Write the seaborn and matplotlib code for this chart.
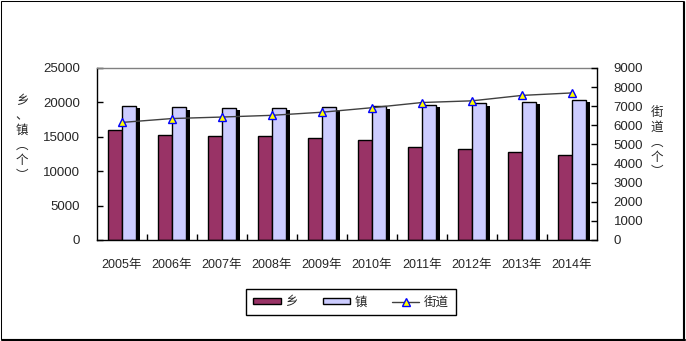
import numpy as np
import pandas as pd
import matplotlib
matplotlib.use("Agg")
import matplotlib.pyplot as plt
import matplotlib.patheffects as pe
from matplotlib.patches import Rectangle
from matplotlib.lines import Line2D
from matplotlib.patches import Patch
import seaborn as sns

years = ["2005年", "2006年", "2007年", "2008年", "2009年",
         "2010年", "2011年", "2012年", "2013年", "2014年"]
xiang = [15951, 15306, 15120, 15067, 14848, 14571, 13587, 13281, 12812, 12282]
zhen = [19522, 19369, 19249, 19234, 19322, 19410, 19683, 19881, 20117, 20401]
jiedao = [6152, 6355, 6434, 6524, 6686, 6923, 7194, 7282, 7566, 7696]

left_ticks = [0, 5000, 10000, 15000, 20000, 25000]
right_ticks = list(range(0, 10000, 1000))

sns.set_theme(style="white")
plt.rcParams["font.family"] = ["Liberation Sans", "Noto Sans CJK SC", "DejaVu Sans"]

df = pd.DataFrame({
    "year": years * 2,
    "count": xiang + zhen,
    "type": ["乡"] * len(years) + ["镇"] * len(years),
})

fig = plt.figure(figsize=(6.86, 3.41), dpi=100)
ax = fig.add_axes([97 / 686, 1 - 240 / 341, 500 / 686, 172 / 341])

sns.barplot(data=df, x="year", y="count", hue="type",
            palette={"乡": "#993366", "镇": "#CCCCFF"},
            width=0.572, gap=0, edgecolor="black", linewidth=1.0,
            saturation=1, legend=False, ax=ax)

# drop shadow behind the 镇 bars
for bar in ax.containers[1]:
    bar.set_path_effects([pe.SimplePatchShadow(offset=(3, -2), shadow_rgbFace="black", alpha=1.0),
                          pe.Normal()])

ax.set_xlim(-0.5, len(years) - 0.5)
ax.set_ylim(0, 25000)
ax.set_yticks(left_ticks)
ax.set_yticklabels([str(v) for v in left_ticks], fontsize=9.5)
ax.set_xlabel("")
ax.set_ylabel("")
ax.tick_params(axis="y", direction="in", length=4, width=1, color="black", pad=12, left=True)
ax.tick_params(axis="x", which="major", length=0, pad=14, labelsize=9)
ax.set_xticks(np.arange(len(years) - 1) + 0.5, minor=True)
ax.tick_params(axis="x", which="minor", direction="in", length=4, width=1, color="black", bottom=True)

for side in ["left", "bottom"]:
    ax.spines[side].set_color("black")
    ax.spines[side].set_linewidth(1)
ax.spines["top"].set_color("#808080")
ax.spines["top"].set_linewidth(1)
ax.spines["right"].set_visible(False)

ax2 = ax.twinx()
sns.lineplot(x=np.arange(len(years)), y=jiedao, ax=ax2, color="#404040", linewidth=1,
             marker="^", markersize=5.5, markerfacecolor="#FFFF00", markeredgecolor="#0000FF",
             markeredgewidth=1)
ax2.set_ylim(0, 9000)
ax2.set_yticks(right_ticks)
ax2.set_yticklabels([str(v) for v in right_ticks], fontsize=9.5)
ax2.tick_params(axis="y", direction="in", length=4, width=1, color="black", pad=12, right=True)
for side in ["left", "top", "bottom"]:
    ax2.spines[side].set_visible(False)
ax2.spines["right"].set_color("black")
ax2.spines["right"].set_linewidth(1)
ax2.set_xlim(-0.5, len(years) - 0.5)

cjk = ["Noto Sans CJK SC", "DejaVu Sans"]
fig.text(22 / 686, 1 - 138 / 341, "乡\n、\n镇\n︵\n个\n︶", ha="center", va="center",
         fontsize=9, family=cjk, linespacing=1.2)
fig.text(657 / 686, 1 - 142 / 341, "街\n道\n︵\n个\n︶", ha="center", va="center",
         fontsize=9, family=cjk, linespacing=1.2)

handles = [
    Patch(facecolor="#993366", edgecolor="black", linewidth=1, label="乡"),
    Patch(facecolor="#CCCCFF", edgecolor="black", linewidth=1, label="镇"),
    Line2D([0], [0], color="#404040", linewidth=1, marker="^", markersize=5.5,
           markerfacecolor="#FFFF00", markeredgecolor="#0000FF", label="街道"),
]
leg = fig.legend(handles=handles, loc="center", bbox_to_anchor=(351 / 686, 1 - 302 / 341),
                 ncol=3, frameon=True, fancybox=False, framealpha=1, edgecolor="black",
                 prop={"family": cjk, "size": 9}, handlelength=2.2, handleheight=0.4,
                 columnspacing=2.0, handletextpad=0.35, borderpad=0.55, borderaxespad=0)
leg.get_frame().set_linewidth(1)

# outer chart frame, with a heavier right and bottom edge
fig.patches.append(Rectangle((0.5 / 686, 2.5 / 341), 682 / 686, 338 / 341, transform=fig.transFigure,
                             fill=False, edgecolor="black", linewidth=0.75))
fig.add_artist(Line2D([684 / 686, 684 / 686], [0.5 / 341, 339 / 341], transform=fig.transFigure,
                      color="black", linewidth=1.5))
fig.add_artist(Line2D([2 / 686, 684.5 / 686], [1.5 / 341, 1.5 / 341], transform=fig.transFigure,
                      color="black", linewidth=1.5))

fig.savefig("out.png", dpi=100)
